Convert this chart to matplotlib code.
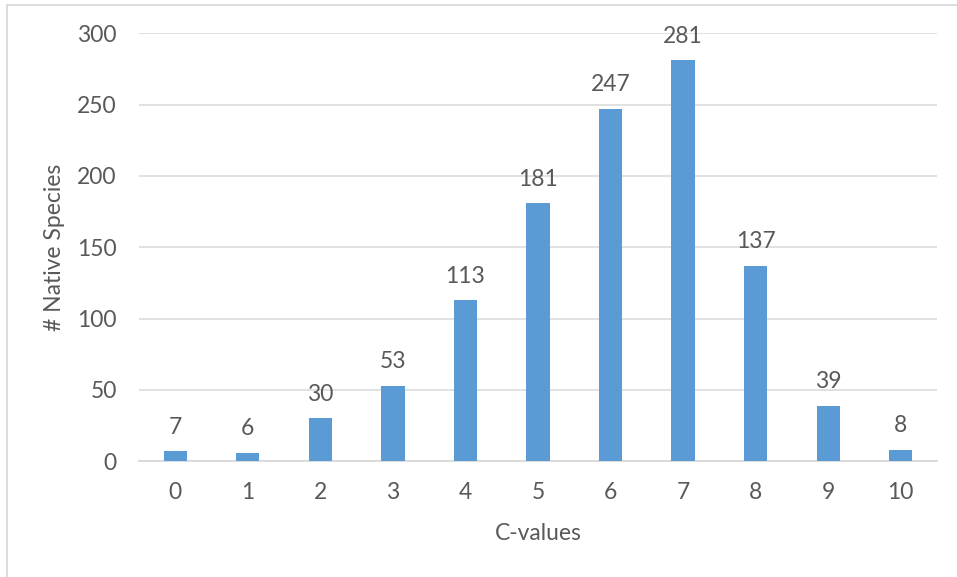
import matplotlib
matplotlib.use("Agg")
import matplotlib.pyplot as plt
from matplotlib.lines import Line2D

c_values = ["0", "1", "2", "3", "4", "5", "6", "7", "8", "9", "10"]
species_counts = [7, 6, 30, 53, 113, 181, 247, 281, 137, 39, 8]
y_ticks = [0, 50, 100, 150, 200, 250, 300]

TEXT = "#595959"
GRID = "#d9d9d9"
BAR = "#5b9bd5"
FS = 16.5

plt.rcParams["font.family"] = ["Lato", "DejaVu Sans"]

fig = plt.figure(figsize=(9.57, 5.77), dpi=100)
ax = fig.add_axes([139 / 957, 1 - 461.3 / 577, (937 - 139) / 957, (461.3 - 33.3) / 577])

x = list(range(len(c_values)))
ax.bar(x, species_counts, width=0.32, color=BAR, zorder=3)

for xi, v in zip(x, species_counts):
    ax.annotate(str(v), (xi, v), xytext=(0, 24), textcoords="offset pixels",
                ha="center", va="center", fontsize=FS, color=TEXT)

ax.set_xlim(-0.5, len(c_values) - 0.5)
ax.set_ylim(0, 300)
ax.set_yticks(y_ticks)
ax.set_xticks(x)
ax.set_xticklabels(c_values)
ax.tick_params(axis="both", length=0, labelsize=FS, labelcolor=TEXT)
ax.tick_params(axis="y", pad=16)
ax.tick_params(axis="x", pad=15)
ax.grid(axis="y", color=GRID, linewidth=1.1, zorder=0)
for side in ["top", "right", "left"]:
    ax.spines[side].set_visible(False)
ax.spines["bottom"].set_color(GRID)
ax.spines["bottom"].set_linewidth(1.3)

ax.set_xlabel("C-values", fontsize=FS, color=TEXT, labelpad=14)
ax.set_ylabel("# Native Species", fontsize=FS, color=TEXT, labelpad=9)

# outer chart frame
fig.add_artist(Line2D([7 / 957, 1.0], [1 - 4.5 / 577, 1 - 4.5 / 577],
                      transform=fig.transFigure, color=GRID, linewidth=1.3))
fig.add_artist(Line2D([7 / 957, 7 / 957], [0.0, 1 - 4.5 / 577],
                      transform=fig.transFigure, color=GRID, linewidth=1.3))

fig.savefig("out.png", dpi=100)
